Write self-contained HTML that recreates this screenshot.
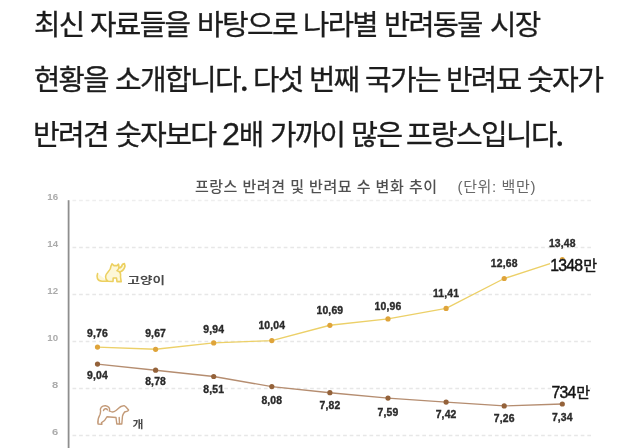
<!DOCTYPE html>
<html lang="ko"><head><meta charset="utf-8"><title>프랑스 반려동물 시장</title>
<style>
html,body{margin:0;padding:0;background:#fff;}
body{width:640px;height:448px;overflow:hidden;position:relative;font-family:"Liberation Sans","Noto Sans CJK KR",sans-serif;}
.w{position:absolute;white-space:nowrap;color:#1c1c1c;font-family:"Liberation Sans","Noto Sans CJK KR",sans-serif;font-size:26px;font-weight:400;-webkit-text-stroke:0.3px #1c1c1c;line-height:40px;letter-spacing:-1.5px;transform-origin:0 0;}
.d{display:inline-block;line-height:0;position:relative;top:-0.8px;left:0.2px;transform:scale(1.12);transform-origin:0 100%;font-family:"Noto Sans CJK KR","Liberation Sans",sans-serif;}
svg text{font-family:"Liberation Sans","Noto Sans CJK KR",sans-serif;}
.ax{font-size:8.6px;font-weight:700;fill:#ababab}
.dl{font-size:10.4px;font-weight:700;fill:#2a2a2a;stroke:#2a2a2a;stroke-width:0.35px;letter-spacing:0.15px}
.tt{font-size:15px;fill:#505050;font-weight:500}
.tu{font-size:15px;fill:#686868;font-weight:400}
.lg{font-size:10.5px;font-weight:700;fill:#4a4a4a}
.big{position:absolute;white-space:nowrap;color:#151515;font-size:15.8px;line-height:14px;height:14px;font-family:"Liberation Sans","Noto Sans CJK KR",sans-serif;-webkit-text-stroke:0.45px #151515;background:#fff;letter-spacing:-0.75px}
.big i{font-style:normal;font-size:15px;letter-spacing:0;margin-left:0.8px;position:relative;top:0px}
</style></head><body>
<span class="w" style="left:34.12px;top:4.2px;transform:scale(1.1035,1.08)">최신</span>
<span class="w" style="left:90.27px;top:4.2px;transform:scale(1.1081,1.08)">자료들을</span>
<span class="w" style="left:196.52px;top:4.2px;transform:scale(1.1153,1.08)">바탕으로</span>
<span class="w" style="left:303.05px;top:4.2px;transform:scale(1.1008,1.08)">나라별</span>
<span class="w" style="left:384.45px;top:4.2px;transform:scale(1.0895,1.08)">반려동물</span>
<span class="w" style="left:490.39px;top:4.2px;transform:scale(1.1056,1.08)">시장</span>
<span class="w" style="left:34.03px;top:59.2px;transform:scale(1.0974,1.08)">현황을</span>
<span class="w" style="left:115.31px;top:59.2px;transform:scale(1.1145,1.08)">소개합니다<span class="d" style="margin-left:-0.67px">.</span></span>
<span class="w" style="left:252.52px;top:59.2px;transform:scale(1.1035,1.08)">다섯</span>
<span class="w" style="left:309.42px;top:59.2px;transform:scale(1.1,1.08)">번째</span>
<span class="w" style="left:364.86px;top:59.2px;transform:scale(1.1132,1.08)">국가는</span>
<span class="w" style="left:446.26px;top:59.2px;transform:scale(1.1073,1.08)">반려묘</span>
<span class="w" style="left:527.35px;top:59.2px;transform:scale(1.1199,1.08)">숫자가</span>
<span class="w" style="left:33.49px;top:113.5px;transform:scale(1.1172,1.08)">반려견</span>
<span class="w" style="left:114.85px;top:113.5px;transform:scale(1.1204,1.08)">숫자보다</span>
<span class="w" style="left:221.68px;top:112.53px;font-size:28.6px;transform:scale(1.1321,1.08)">2</span>
<span class="w" style="left:238.81px;top:113.5px;transform:scale(1.0436,1.08)">배</span>
<span class="w" style="left:269.87px;top:113.5px;transform:scale(1.1051,1.08)">가까이</span>
<span class="w" style="left:350.57px;top:113.5px;transform:scale(1.1263,1.08)">많은</span>
<span class="w" style="left:406.11px;top:113.5px;transform:scale(1.1143,1.08)">프랑스입니다<span class="d" style="margin-left:-0.26px">.</span></span>
<svg width="640" height="448" viewBox="0 0 640 448" style="position:absolute;left:0;top:0;filter:blur(0.45px)">
<line x1="72.5" x2="591" y1="200.5" y2="200.5" stroke="#eeeeee" stroke-width="1.5" stroke-dasharray="3.7 2.9"/>
<text x="47.3" y="200.1" textLength="10.8" lengthAdjust="spacingAndGlyphs" class="ax">16</text>
<line x1="72.5" x2="591" y1="247.5" y2="247.5" stroke="#e7e7e7" stroke-width="1.5" stroke-dasharray="3.7 2.9"/>
<text x="47.3" y="247.1" textLength="10.8" lengthAdjust="spacingAndGlyphs" class="ax">14</text>
<line x1="72.5" x2="591" y1="294.5" y2="294.5" stroke="#e7e7e7" stroke-width="1.5" stroke-dasharray="3.7 2.9"/>
<text x="47.3" y="294.1" textLength="10.8" lengthAdjust="spacingAndGlyphs" class="ax">12</text>
<line x1="72.5" x2="591" y1="341.5" y2="341.5" stroke="#e7e7e7" stroke-width="1.5" stroke-dasharray="3.7 2.9"/>
<text x="47.3" y="341.1" textLength="10.8" lengthAdjust="spacingAndGlyphs" class="ax">10</text>
<line x1="72.5" x2="591" y1="388.5" y2="388.5" stroke="#e7e7e7" stroke-width="1.5" stroke-dasharray="3.7 2.9"/>
<text x="51.9" y="388.1" textLength="6.2" lengthAdjust="spacingAndGlyphs" class="ax">8</text>
<line x1="72.5" x2="591" y1="435.5" y2="435.5" stroke="#e7e7e7" stroke-width="1.5" stroke-dasharray="3.7 2.9"/>
<text x="51.9" y="435.1" textLength="6.2" lengthAdjust="spacingAndGlyphs" class="ax">6</text>
<line x1="68.6" x2="68.6" y1="200.2" y2="448" stroke="#8e8e8e" stroke-width="1.8"/>
<polyline points="97.5,347.1 155.6,349.3 213.7,342.9 271.8,340.6 329.9,325.3 388.0,318.9 446.1,308.4 504.2,278.5 562.3,259.7" fill="none" stroke="#ecd068" stroke-width="1.4" stroke-linejoin="round"/>
<circle cx="97.5" cy="347.1" r="2.6" fill="#dfa43a"/>
<circle cx="155.6" cy="349.3" r="2.6" fill="#dfa43a"/>
<circle cx="213.7" cy="342.9" r="2.6" fill="#dfa43a"/>
<circle cx="271.8" cy="340.6" r="2.6" fill="#dfa43a"/>
<circle cx="329.9" cy="325.3" r="2.6" fill="#dfa43a"/>
<circle cx="388.0" cy="318.9" r="2.6" fill="#dfa43a"/>
<circle cx="446.1" cy="308.4" r="2.6" fill="#dfa43a"/>
<circle cx="504.2" cy="278.5" r="2.6" fill="#dfa43a"/>
<circle cx="562.3" cy="259.7" r="2.6" fill="#dfa43a"/>
<text x="97.5" y="336.9" text-anchor="middle" class="dl">9,76</text>
<text x="155.6" y="336.8" text-anchor="middle" class="dl">9,67</text>
<text x="213.7" y="332.6" text-anchor="middle" class="dl">9,94</text>
<text x="271.8" y="329.4" text-anchor="middle" class="dl">10,04</text>
<text x="329.9" y="314.1" text-anchor="middle" class="dl">10,69</text>
<text x="388.0" y="309.6" text-anchor="middle" class="dl">10,96</text>
<text x="446.1" y="297.0" text-anchor="middle" class="dl">11,41</text>
<text x="504.2" y="267.0" text-anchor="middle" class="dl">12,68</text>
<text x="562.3" y="246.8" text-anchor="middle" class="dl">13,48</text>
<polyline points="97.5,364.1 155.6,370.2 213.7,376.5 271.8,386.6 329.9,392.7 388.0,398.1 446.1,402.1 504.2,405.9 562.3,404.0" fill="none" stroke="#b58d70" stroke-width="1.4" stroke-linejoin="round"/>
<circle cx="97.5" cy="364.1" r="2.6" fill="#94623a"/>
<circle cx="155.6" cy="370.2" r="2.6" fill="#94623a"/>
<circle cx="213.7" cy="376.5" r="2.6" fill="#94623a"/>
<circle cx="271.8" cy="386.6" r="2.6" fill="#94623a"/>
<circle cx="329.9" cy="392.7" r="2.6" fill="#94623a"/>
<circle cx="388.0" cy="398.1" r="2.6" fill="#94623a"/>
<circle cx="446.1" cy="402.1" r="2.6" fill="#94623a"/>
<circle cx="504.2" cy="405.9" r="2.6" fill="#94623a"/>
<circle cx="562.3" cy="404.0" r="2.6" fill="#94623a"/>
<text x="97.5" y="378.8" text-anchor="middle" class="dl">9,04</text>
<text x="155.6" y="385.2" text-anchor="middle" class="dl">8,78</text>
<text x="213.7" y="393.2" text-anchor="middle" class="dl">8,51</text>
<text x="271.8" y="403.8" text-anchor="middle" class="dl">8,08</text>
<text x="329.9" y="408.8" text-anchor="middle" class="dl">7,82</text>
<text x="388.0" y="416.1" text-anchor="middle" class="dl">7,59</text>
<text x="446.1" y="418.4" text-anchor="middle" class="dl">7,42</text>
<text x="504.2" y="421.9" text-anchor="middle" class="dl">7,26</text>
<text x="562.3" y="421.1" text-anchor="middle" class="dl">7,34</text>
<text x="195" y="192.2" textLength="242" lengthAdjust="spacing" class="tt">프랑스 반려견 및 반려묘 수 변화 추이</text>
<text x="457.5" y="192.2" textLength="78" lengthAdjust="spacing" class="tu">(단위: 백만)</text>
<text x="127.6" y="284.3" textLength="37.5" lengthAdjust="spacingAndGlyphs" class="lg">고양이</text>
<text x="132.6" y="427.6" textLength="11" lengthAdjust="spacingAndGlyphs" class="lg">개</text>
<g fill="#fbf0b8" fill-opacity="0.55" stroke="#ecd060" stroke-width="1.6" stroke-linecap="round" stroke-linejoin="round"><path d="M97.6 273.5 C96.2 277 97.2 281 102 281.2 L108 281.2 C104.5 279 105 275 108 272 C110 270 111 268 111 266 L112 263.8 L114 265.6 L117 265.6 L118.5 264.2 L119 267 C119 269 118 270 117 270.6 C120 271.2 121 274 120.5 277 L121.2 281.6 L117 281.6 L116.5 278 L113.2 278 L113 281.5 L108 281.2"/><path d="M119 268 C121 268 122 266 122.5 264.2 L124.4 263.6 L125 266 C124.5 269 122.5 271 120 272"/></g>
<g fill="none" stroke="#c39a78" stroke-width="1.4" stroke-linecap="round" stroke-linejoin="round"><path d="M110.3 411.3 C112 412.5 114 412 116 410.5 C118 409 119 407.5 121 406.5 L124 405.6 L125.5 406.5 L128.6 410 L127.5 411.2 L124.6 412 C123.5 413.5 123 414.5 122.5 416 L121.8 424 L116.8 424 L116 417.5 L107 416.8 C106 419 104 421.5 101.5 422.6 L102 424.2 L98 424 C97.5 421 98 418 100 414.5 C100.5 413 100.3 412.3 100.6 411.5 C99.5 408 102 405.5 105.5 405.7 C108.5 406 110.5 408.5 109.3 411"/><path d="M103.5 410.5 C104 408.500 106.5 408 107.5 409.8"/><path d="M119.2 417.5 L119.5 423.8"/></g>
</svg>
<div class="big" id="b1" style="left:550.2px;top:259px">1348<i>만</i></div>
<div class="big" id="b2" style="left:551.4px;top:386.2px">734<i>만</i></div>
</body></html>
